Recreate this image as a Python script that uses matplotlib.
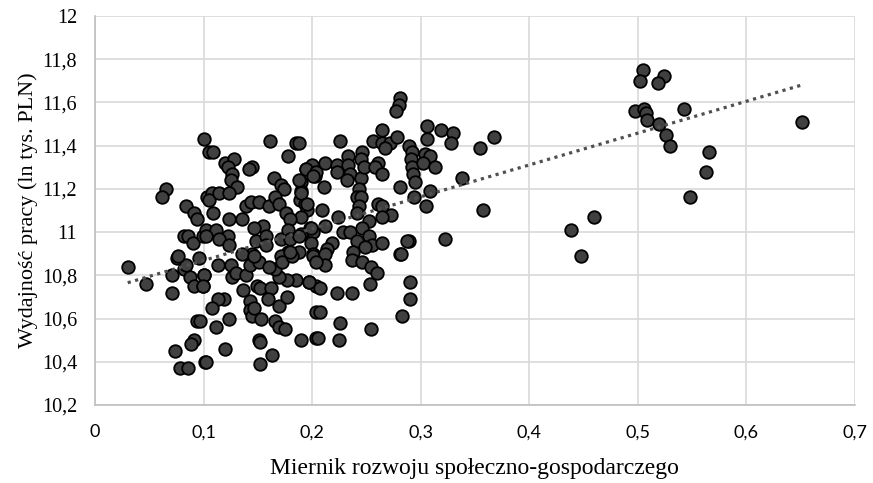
import numpy as np
import matplotlib
matplotlib.use("Agg")
import matplotlib.pyplot as plt

plt.rcParams['font.family'] = ['Liberation Serif', 'DejaVu Serif']

# Miernik rozwoju (x) and Wydajność pracy (y)
x_vals = [
    0.030, 0.047, 0.071, 0.071, 0.075, 0.082, 0.087, 0.091, 0.099, 0.100, 0.094, 0.091, 0.088,
    0.074, 0.078, 0.086, 0.101, 0.096, 0.084,
    0.100, 0.105, 0.065, 0.062, 0.084, 0.091, 0.094, 0.103, 0.082, 0.086, 0.090, 0.099, 0.076,
    0.109, 0.161, 0.185, 0.178, 0.120, 0.128, 0.122, 0.145, 0.142, 0.126, 0.125, 0.131, 0.165,
    0.171, 0.174, 0.190, 0.194, 0.201, 0.203, 0.190, 0.189, 0.193, 0.195, 0.190, 0.108, 0.105,
    0.114, 0.123, 0.109, 0.123, 0.135, 0.139, 0.144, 0.151, 0.160, 0.166, 0.169, 0.176, 0.180,
    0.155, 0.146, 0.102, 0.111, 0.122, 0.114, 0.102, 0.123, 0.148, 0.157, 0.157, 0.171, 0.178,
    0.180, 0.198, 0.201, 0.190, 0.199, 0.178, 0.188, 0.171, 0.145, 0.135,
    0.100, 0.099, 0.113, 0.125, 0.126, 0.130, 0.139, 0.143, 0.151, 0.146, 0.136, 0.149, 0.152,
    0.162, 0.159, 0.169, 0.177, 0.143, 0.143, 0.145, 0.146, 0.153, 0.166, 0.169, 0.175, 0.123,
    0.111, 0.119, 0.113, 0.108, 0.097, 0.151, 0.152, 0.120, 0.163, 0.152, 0.102, 0.190, 0.204,
    0.185, 0.177, 0.169, 0.166, 0.160, 0.172, 0.181, 0.180, 0.197, 0.204, 0.204,
    0.281, 0.280, 0.277, 0.264, 0.226, 0.256, 0.264, 0.272, 0.278, 0.267, 0.289, 0.292, 0.291,
    0.188, 0.212, 0.200, 0.194, 0.204, 0.201, 0.223, 0.233, 0.246, 0.245, 0.233, 0.235, 0.223,
    0.232, 0.245, 0.248, 0.261, 0.258, 0.264, 0.292, 0.293, 0.295, 0.188, 0.190, 0.211, 0.243,
    0.241, 0.245, 0.243, 0.241, 0.281, 0.294, 0.261, 0.264, 0.273, 0.264, 0.209, 0.224, 0.195,
    0.199, 0.212, 0.228, 0.235, 0.252, 0.246, 0.252, 0.241, 0.255, 0.264, 0.289, 0.287, 0.188,
    0.218, 0.201, 0.214, 0.238, 0.249, 0.281,
    0.201, 0.212, 0.212, 0.204, 0.237, 0.246, 0.254, 0.260, 0.253, 0.197, 0.207, 0.223, 0.237,
    0.207, 0.226, 0.254, 0.205, 0.225, 0.282, 0.290, 0.290, 0.283,
    0.306, 0.319, 0.330, 0.328, 0.355, 0.368, 0.306, 0.304, 0.309, 0.302, 0.313, 0.338, 0.309,
    0.305, 0.357, 0.322,
    0.505, 0.502, 0.524, 0.519, 0.498, 0.506, 0.508, 0.509, 0.520, 0.543, 0.526, 0.530, 0.566,
    0.563, 0.548, 0.651, 0.460, 0.439, 0.448,
]
y_vals = [
    10.84, 10.76, 10.80, 10.72, 10.88, 10.83, 10.79, 10.75, 10.75, 10.80, 10.59, 10.50, 10.48,
    10.45, 10.37, 10.37, 10.40, 10.88, 10.85,
    11.43, 11.37, 11.20, 11.16, 11.12, 11.09, 11.06, 11.16, 10.98, 10.98, 10.95, 10.98, 10.89,
    11.37, 11.42, 11.41, 11.35, 11.32, 11.34, 11.30, 11.30, 11.29, 11.27, 11.24, 11.21, 11.25,
    11.22, 11.20, 11.23, 11.29, 11.30, 11.26, 11.19, 11.15, 11.13, 11.10, 11.07, 11.18, 11.15,
    11.18, 11.18, 11.09, 11.06, 11.06, 11.12, 11.14, 11.14, 11.12, 11.16, 11.13, 11.09, 11.06,
    11.03, 11.02, 11.01, 11.01, 10.98, 10.97, 10.98, 10.94, 10.96, 10.98, 10.94, 10.97, 11.01,
    10.97, 11.02, 11.00, 10.99, 10.95, 10.91, 10.91, 10.89, 10.90, 10.90,
    10.80, 10.75, 10.85, 10.85, 10.79, 10.81, 10.80, 10.85, 10.86, 10.89, 10.73, 10.75, 10.74,
    10.74, 10.69, 10.66, 10.70, 10.68, 10.64, 10.61, 10.65, 10.60, 10.59, 10.56, 10.55, 10.60,
    10.56, 10.69, 10.69, 10.65, 10.59, 10.50, 10.49, 10.46, 10.43, 10.39, 10.40, 10.50, 10.51,
    10.78, 10.78, 10.79, 10.83, 10.84, 10.86, 10.89, 10.91, 10.77, 10.75, 10.63,
    11.62, 11.59, 11.56, 11.47, 11.42, 11.42, 11.41, 11.41, 11.44, 11.39, 11.40, 11.37, 11.34,
    11.41, 11.32, 11.31, 11.29, 11.28, 11.26, 11.31, 11.35, 11.37, 11.34, 11.31, 11.27, 11.28,
    11.24, 11.25, 11.30, 11.32, 11.30, 11.27, 11.30, 11.27, 11.23, 11.24, 11.18, 11.21, 11.20,
    11.16, 11.16, 11.12, 11.09, 11.21, 11.16, 11.13, 11.12, 11.08, 11.07, 11.10, 11.07, 11.13,
    11.02, 11.03, 11.00, 11.00, 11.05, 11.02, 10.98, 10.96, 10.94, 10.95, 10.96, 10.96, 10.98,
    10.95, 10.90, 10.92, 10.91, 10.93, 10.90,
    10.89, 10.90, 10.85, 10.86, 10.87, 10.86, 10.84, 10.81, 10.76, 10.77, 10.74, 10.72, 10.72,
    10.63, 10.58, 10.55, 10.51, 10.50, 10.90, 10.77, 10.69, 10.61,
    11.49, 11.47, 11.46, 11.41, 11.39, 11.44, 11.43, 11.36, 11.35, 11.32, 11.30, 11.25, 11.19,
    11.12, 11.10, 10.97,
    11.75, 11.70, 11.72, 11.69, 11.56, 11.57, 11.55, 11.52, 11.50, 11.57, 11.45, 11.40, 11.37,
    11.28, 11.16, 11.51, 11.07, 11.01, 10.89,
]

x_ticks = [0, 0.1, 0.2, 0.3, 0.4, 0.5, 0.6, 0.7]
y_ticks = [10.2, 10.4, 10.6, 10.8, 11.0, 11.2, 11.4, 11.6, 11.8, 12.0]

x = np.array(x_vals)
y = np.array(y_vals)


def fmt(v):
    s = f"{v:.1f}"
    if s.endswith(".0"):
        s = s[:-2]
    return s.replace('.', ',')


fig = plt.figure(figsize=(8.73, 4.83), dpi=100)
ax = fig.add_axes([0.109, 0.1615, 0.870, 0.8055])

ax.scatter(x, y, s=82, facecolor='#404040', edgecolor='black', linewidths=1.3, zorder=3)

coef = np.polyfit(x, y, 1)
xl = np.array([x.min(), x.max()])
ax.plot(xl, np.polyval(coef, xl), linestyle=(0, (1, 1.4)), color='#505050', lw=2.3, zorder=4)

ax.set_xlim(0, 0.7)
ax.set_ylim(10.2, 12.0)
ax.set_xticks(x_ticks)
ax.set_xticklabels([fmt(v) for v in x_ticks], fontfamily=['Lato', 'DejaVu Sans'], fontsize=13)
ax.set_yticks(y_ticks)
ax.set_yticklabels([fmt(v) for v in y_ticks], fontsize=14.5)

ax.grid(True, color='#d9d9d9', lw=1.2, zorder=0)
ax.set_axisbelow(True)
for sp in ['top', 'right']:
    ax.spines[sp].set_visible(False)
for sp in ['left', 'bottom']:
    ax.spines[sp].set_color('#bfbfbf')
    ax.spines[sp].set_linewidth(1.2)
ax.tick_params(axis='both', length=0, colors='black')
ax.tick_params(axis='x', pad=14)
ax.tick_params(axis='y', pad=13)

ax.set_xlabel('Miernik rozwoju społeczno-gospodarczego', fontsize=17, labelpad=13)
ax.set_ylabel('Wydajność pracy (ln tys. PLN)', fontsize=16, labelpad=3)

fig.savefig('out.png', dpi=100)
